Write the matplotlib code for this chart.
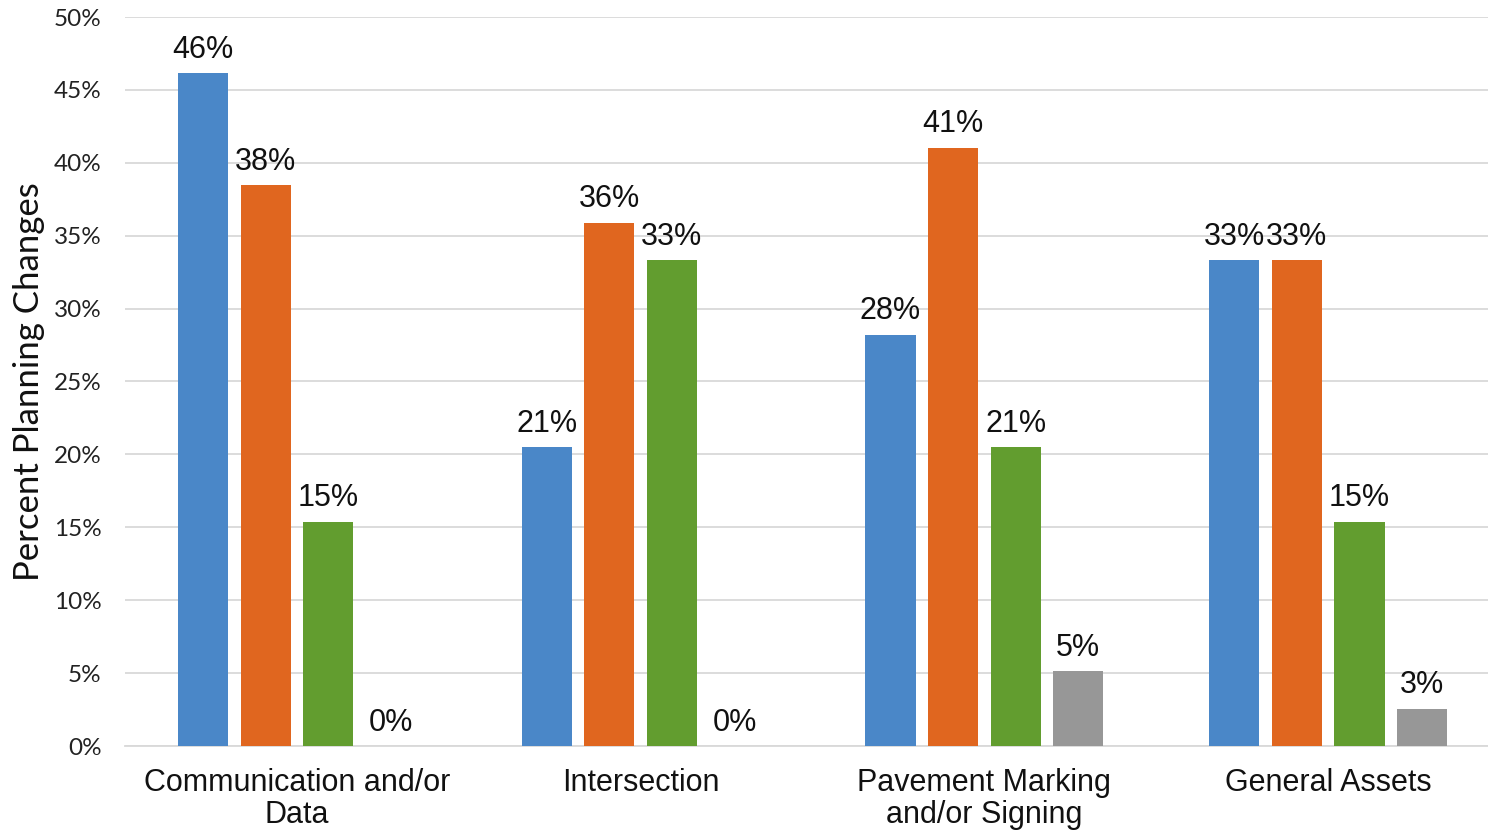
import numpy as np
import matplotlib.pyplot as plt

kategorie = ["Communication and/or\nData", "Intersection",
             "Pavement Marking\nand/or Signing", "General Assets"]
seria1 = [46.15, 20.51, 28.21, 33.33]  # niebieska
seria2 = [38.46, 35.90, 41.03, 33.33]  # pomaranczowa
seria3 = [15.38, 33.33, 20.51, 15.38]  # zielona
seria4 = [0.0, 0.0, 5.13, 2.56]        # szara
kolory = ["#4a87c8", "#e0661f", "#629d2f", "#979797"]

fig = plt.figure(figsize=(14.88, 8.3), dpi=100)
ax = fig.add_axes([125 / 1488, 84 / 830, 1 - 125 / 1488, 729 / 830])

x = np.arange(len(kategorie))
krok = 0.182
szer = 0.146
for i, (seria, kolor) in enumerate(zip([seria1, seria2, seria3, seria4], kolory)):
    slupki = ax.bar(x + (i - 1.5) * krok, seria, szer, color=kolor, zorder=3)
    ax.bar_label(slupki, labels=[f"{v:.0f}%" for v in seria], padding=6,
                 fontsize=22, family="Liberation Sans", color="#111111")

ax.set_xlim(-0.5, 3.465)
ax.set_ylim(0, 50)
ax.set_yticks(np.arange(0, 51, 5))
ax.set_yticklabels([f"{t}%" for t in range(0, 51, 5)], family="Lato", fontsize=17.5,
                   color="#222222")
ax.set_xticks(x)
ax.set_xticklabels(kategorie, family="Liberation Sans", fontsize=22, linespacing=1.08,
                   color="#111111")
ax.tick_params(axis="y", length=0, pad=17)
ax.tick_params(axis="x", length=0, pad=16)

ax.grid(axis="y", color="#d9d9d9", linewidth=1.3, zorder=0)
for s in ["top", "right", "left"]:
    ax.spines[s].set_visible(False)
ax.spines["bottom"].set_color("#d9d9d9")
ax.spines["bottom"].set_linewidth(1.3)

ax.set_ylabel("Percent Planning Changes", family="Lato", fontsize=25, color="#111111")
ax.yaxis.set_label_coords(-0.059, 0.5)

plt.savefig("out.png", dpi=100)
